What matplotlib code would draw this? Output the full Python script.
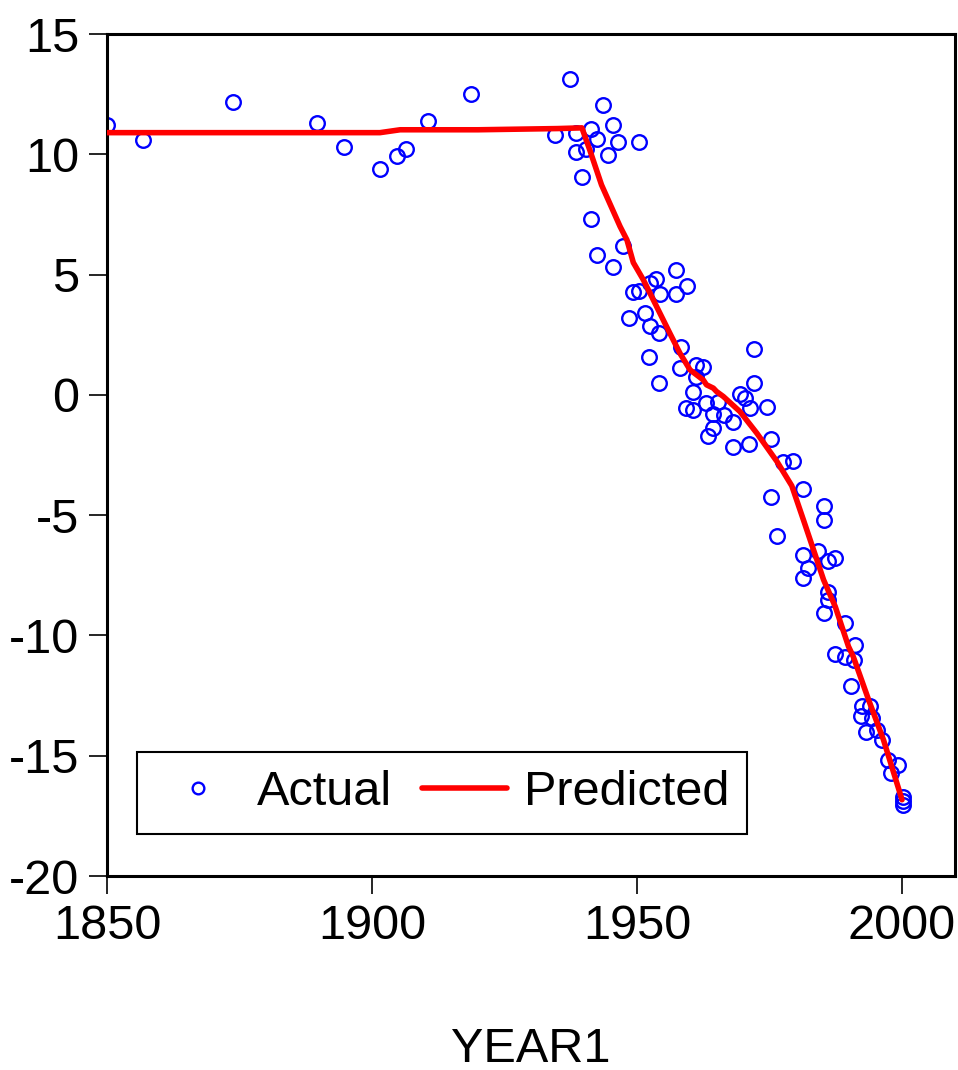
import numpy as np
import matplotlib
matplotlib.use("Agg")
import matplotlib.pyplot as plt

actual_years = [
    1850.0, 1856.7, 1873.7, 1889.6, 1894.7, 1901.6, 1904.7, 1906.5, 1910.5, 1918.7,
    1934.5, 1937.4, 1938.4, 1938.4, 1939.6, 1940.4, 1941.4, 1941.4, 1942.4, 1942.4,
    1943.5, 1944.5, 1945.4, 1945.4, 1946.5, 1947.3, 1948.5, 1949.3, 1950.3, 1950.3,
    1951.5, 1952.5, 1952.5, 1952.3, 1953.6, 1954.3, 1954.2, 1954.2, 1957.4, 1957.4,
    1958.3, 1958.1, 1959.4, 1959.2, 1960.5, 1960.6, 1961.1, 1961.2, 1962.5, 1963.1,
    1963.3, 1964.3, 1964.4, 1965.3, 1966.4, 1968.2, 1968.2, 1969.4, 1970.4, 1971.3,
    1971.2, 1972.1, 1972.1, 1974.5, 1975.2, 1975.2, 1976.4, 1977.5, 1979.4, 1981.3,
    1981.3, 1981.3, 1982.3, 1984.2, 1985.3, 1985.3, 1985.3, 1986.1, 1986.1, 1986.1,
    1987.4, 1987.4, 1989.2, 1989.2, 1990.3, 1991.1, 1991.0, 1992.4, 1992.2, 1993.2,
    1993.9, 1994.3, 1995.2, 1996.2, 1997.4, 1998.0, 1999.3, 2000.1, 2000.1, 2000.1,
]
actual_vals = [
    11.22, 10.60, 12.19, 11.29, 10.29, 9.41, 9.93, 10.21, 11.39, 12.50,
    10.80, 13.15, 10.87, 10.11, 9.07, 10.20, 11.07, 7.33, 10.65, 5.83,
    12.07, 9.99, 11.23, 5.33, 10.53, 6.20, 3.21, 4.29, 10.53, 4.33,
    3.39, 4.64, 2.87, 1.59, 4.81, 4.20, 2.56, 0.51, 5.20, 4.20,
    1.98, 1.11, 4.53, -0.55, 0.10, -0.62, 1.25, 0.76, 1.15, -0.35,
    -1.70, -0.79, -1.39, -0.28, -0.83, -1.11, -2.17, 0.04, -0.14, -0.55,
    -2.04, 1.90, 0.51, -0.49, -1.85, -4.23, -5.85, -2.77, -2.73, -3.92,
    -6.65, -7.62, -7.20, -6.51, -4.64, -5.22, -9.07, -6.89, -8.18, -8.52,
    -6.80, -10.78, -9.49, -10.88, -12.10, -10.39, -11.01, -12.95, -13.34, -14.03,
    -12.95, -13.44, -13.92, -14.36, -15.19, -15.70, -15.38, -16.70, -16.90, -17.04,
]

# fitted curve, read at its bends
pred_years = [
    1850.0, 1901.5, 1905.3, 1920.0, 1935.0, 1939.6, 1941.1, 1943.3, 1946.8, 1948.1,
    1949.3, 1951.2, 1953.7, 1956.2, 1958.1, 1960.0, 1962.5, 1963.1, 1964.4, 1965.0,
    1966.3, 1969.4, 1972.6, 1976.4, 1979.2, 1981.4, 1983.3, 1985.2, 1987.4, 1989.9,
    1990.8, 1993.7, 1996.5, 2000.0,
]
pred_vals = [
    10.90, 10.90, 11.02, 11.02, 11.07, 11.10, 10.17, 8.73, 7.00, 6.44,
    5.50, 4.78, 3.67, 2.56, 1.73, 1.04, 0.62, 0.42, 0.28, 0.14,
    -0.07, -0.69, -1.59, -2.77, -3.78, -5.20, -6.44, -7.69, -8.80, -10.46,
    -10.88, -12.68, -14.34, -16.83,
]

plt.rcParams.update({
    'font.family': ['Liberation Sans', 'DejaVu Sans'],
    'font.size': 35,
    'axes.unicode_minus': False,
})

fig = plt.figure(figsize=(9.58, 10.70), dpi=100)
ax = fig.add_axes([0.1117, 0.1813, 0.8852, 0.7869])

ax.plot(actual_years, actual_vals, 'o', ls='none', mfc='none', mec='#0000ff',
        ms=10.5, mew=1.7, label='Actual', zorder=2)
ax.plot(pred_years, pred_vals, '-', color='#ff0000', lw=4.0, label='Predicted',
        zorder=3, solid_capstyle='round', solid_joinstyle='round')

ax.set_xlim(1850, 2010)
ax.set_ylim(-20, 15)
ax.set_xticks([1850, 1900, 1950, 2000])
ax.set_yticks([-20, -15, -10, -5, 0, 5, 10, 15])
ax.tick_params(direction='out', length=13, width=1.2, pad=7)
ax.tick_params(top=False, right=False)
for s in ax.spines.values():
    s.set_linewidth(2.2)

ax.set_xlabel('YEAR1', labelpad=56)

leg = ax.legend(loc='lower left', bbox_to_anchor=(0.035, 0.05), borderaxespad=0,
                ncol=2, fancybox=False, edgecolor='black', framealpha=1,
                handlelength=1.75, handletextpad=0.34, columnspacing=0.62,
                borderpad=0.38, markerscale=0.8)
leg.get_frame().set_linewidth(1.5)

fig.savefig('out.png', dpi=100)
